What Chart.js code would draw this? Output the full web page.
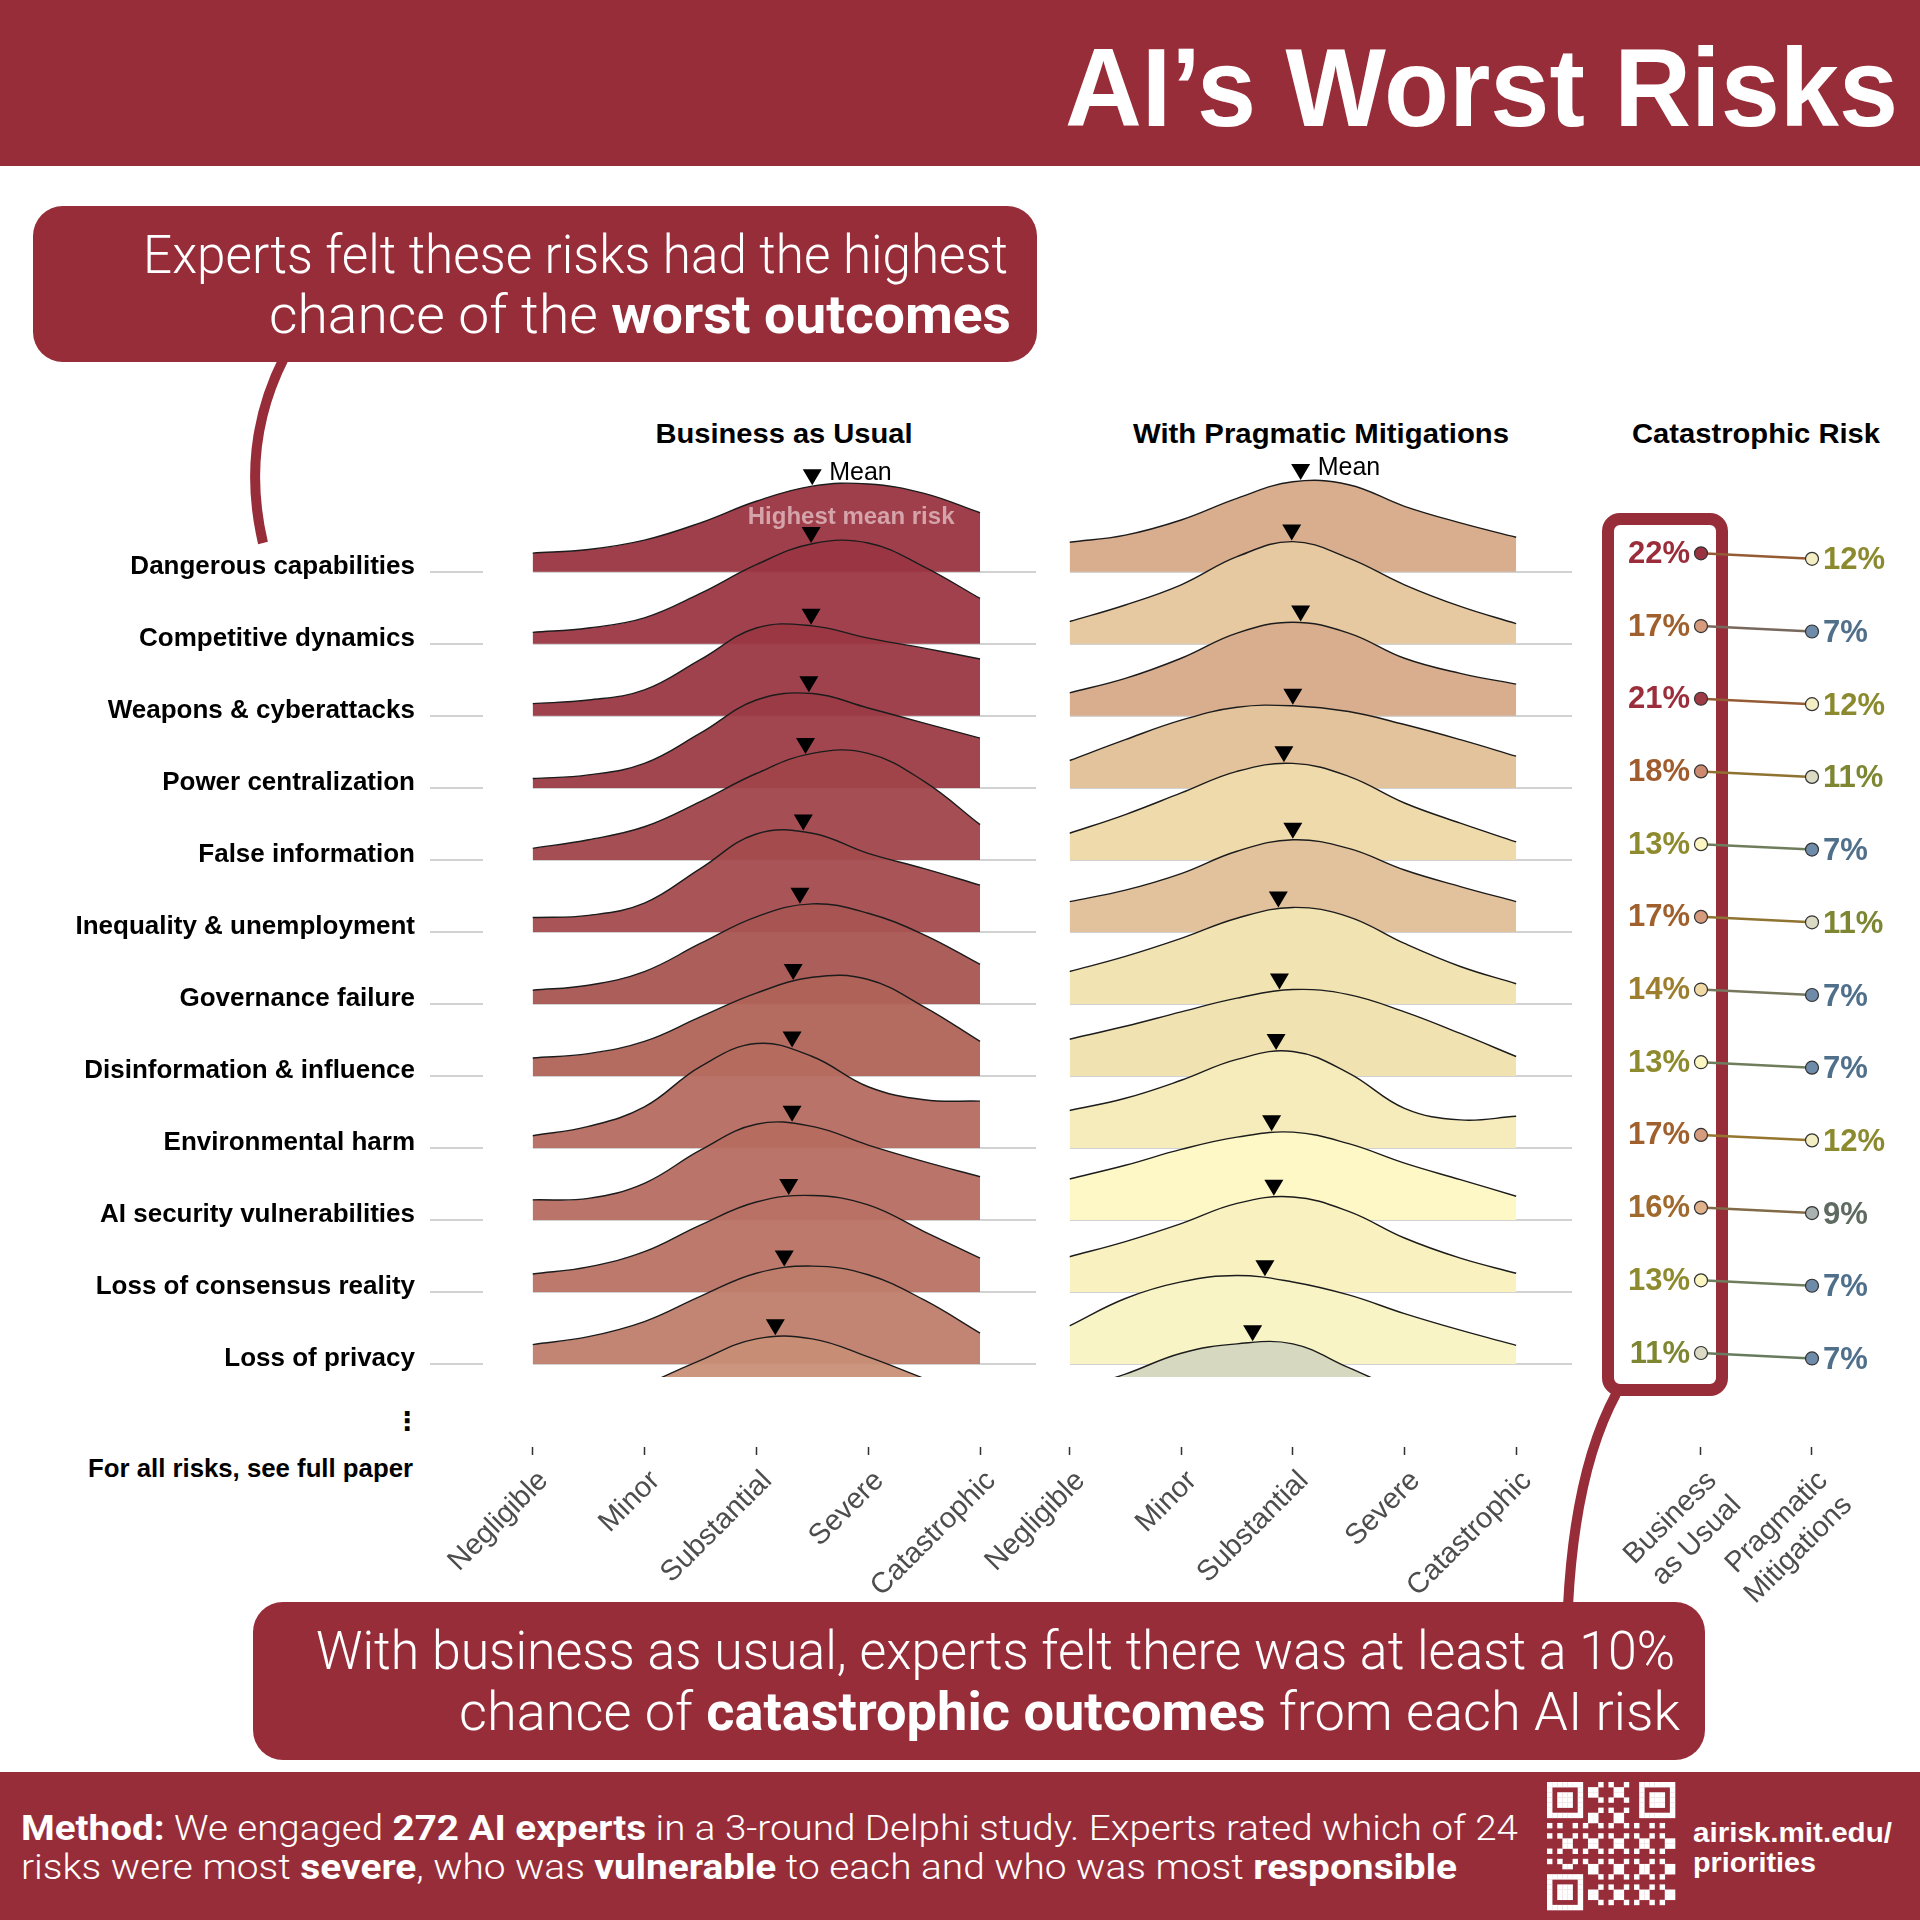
<!DOCTYPE html>
<html>
<head>
<meta charset="utf-8">
<script src="https://cdn.jsdelivr.net/npm/chart.js@4.4.1/dist/chart.umd.min.js"></script>
<style>
  html, body { margin: 0; padding: 0; background: #fff; }
  #page { position: relative; width: 1920px; height: 1920px; overflow: hidden; background: #fff; }
  #bg { position: absolute; left: 0; top: 0; }
  canvas { position: absolute; }
  .light { font-family: Roboto, "Open Sans", Lato, sans-serif; font-weight: 300; }
  .sans { font-family: "Liberation Sans", Arial, sans-serif; }
</style>
</head>
<body>
<div id="page">
<svg id="bg" width="1920" height="1920" xmlns="http://www.w3.org/2000/svg">
  <rect x="0" y="0" width="1920" height="166" fill="#982D3A"/>
  <text class="sans" x="1898" y="126" text-anchor="end" font-weight="700" font-size="112" fill="#fff" textLength="833" lengthAdjust="spacingAndGlyphs">AI’s Worst Risks</text>

  <rect x="33" y="206" width="1004" height="156" rx="30" fill="#982D3A"/>
  <path d="M 284 358 Q 240 445 263 543" stroke="#982D3A" stroke-width="10" fill="none"/>
  <text class="light" x="1008" y="273" text-anchor="end" font-size="53" fill="#fff" textLength="865" lengthAdjust="spacingAndGlyphs">Experts felt these risks had the highest</text>
  <text class="light" x="1011" y="333" text-anchor="end" font-size="53" fill="#fff" textLength="742" lengthAdjust="spacingAndGlyphs">chance of the <tspan font-weight="700">worst outcomes</tspan></text>

  <text class="sans" x="784" y="443" text-anchor="middle" font-weight="700" font-size="28" fill="#000" textLength="257" lengthAdjust="spacingAndGlyphs">Business as Usual</text>
  <text class="sans" x="1321" y="443" text-anchor="middle" font-weight="700" font-size="28" fill="#000" textLength="376" lengthAdjust="spacingAndGlyphs">With Pragmatic Mitigations</text>
  <text class="sans" x="1756" y="443" text-anchor="middle" font-weight="700" font-size="28" fill="#000" textLength="248" lengthAdjust="spacingAndGlyphs">Catastrophic Risk</text>

  <rect x="1608" y="519" width="114" height="871" rx="12" fill="#fff" stroke="#982D3A" stroke-width="12"/>
  <path d="M 1616 1394 Q 1575 1470 1568 1606" stroke="#982D3A" stroke-width="10" fill="none"/>

  <text x="407" y="1430" text-anchor="middle" font-family="DejaVu Sans" font-weight="700" font-size="26" fill="#000">⋮</text>
  <text class="sans" x="413" y="1477" text-anchor="end" font-weight="700" font-size="26" fill="#000" textLength="325" lengthAdjust="spacingAndGlyphs">For all risks, see full paper</text>

  <rect x="253" y="1602" width="1452" height="158" rx="30" fill="#982D3A"/>
  <text class="light" x="1675" y="1669" text-anchor="end" font-size="53" fill="#fff" textLength="1359" lengthAdjust="spacingAndGlyphs">With business as usual, experts felt there was at least a 10%</text>
  <text class="light" x="1680" y="1730" text-anchor="end" font-size="53" fill="#fff" textLength="1221" lengthAdjust="spacingAndGlyphs">chance of <tspan font-weight="700">catastrophic outcomes</tspan> from each AI risk</text>

  <rect x="0" y="1772" width="1920" height="148" fill="#982D3A"/>
  <text class="light" x="21" y="1840" font-size="35" fill="#fff" textLength="1497" lengthAdjust="spacingAndGlyphs"><tspan font-weight="700">Method:</tspan> We engaged <tspan font-weight="700">272 AI experts</tspan> in a 3-round Delphi study. Experts rated which of 24</text>
  <text class="light" x="21" y="1879" font-size="35" fill="#fff" textLength="1436" lengthAdjust="spacingAndGlyphs">risks were most <tspan font-weight="700">severe</tspan>, who was <tspan font-weight="700">vulnerable</tspan> to each and who was most <tspan font-weight="700">responsible</tspan></text>
  <text class="sans" x="1693" y="1842" font-weight="700" font-size="27" fill="#fff" textLength="199" lengthAdjust="spacingAndGlyphs">airisk.mit.edu/</text>
  <text class="sans" x="1693" y="1872" font-weight="700" font-size="27" fill="#fff" textLength="123" lengthAdjust="spacingAndGlyphs">priorities</text>
  <g id="qr"></g>
</svg>

<canvas id="labelsChart" width="483" height="1227" style="left:0px;top:400px;width:483px;height:1227px;"></canvas>
<canvas id="bauChart" width="660" height="1227" style="left:400px;top:400px;width:660px;height:1227px;"></canvas>
<canvas id="pmChart" width="659" height="1227" style="left:937px;top:400px;width:659px;height:1227px;"></canvas>
<canvas id="catChart" width="460" height="1227" style="left:1480px;top:400px;width:460px;height:1227px;"></canvas>
</div>

<script>
// ---------------- DATA ----------------
const categories = ['Negligible', 'Minor', 'Substantial', 'Severe', 'Catastrophic'];
const gridX = [0, 0.5, 1, 1.5, 2, 2.5, 3, 3.5, 4];
const riskLabels = [
  'Dangerous capabilities', 'Competitive dynamics', 'Weapons & cyberattacks',
  'Power centralization', 'False information', 'Inequality & unemployment',
  'Governance failure', 'Disinformation & influence', 'Environmental harm',
  'AI security vulnerabilities', 'Loss of consensus reality', 'Loss of privacy'
];
// density of ratings read at gridX, one row per risk (13th row = next risk, cut off)
const bauDensity = [
  [0.26, 0.31, 0.44, 0.68, 0.98, 1.19, 1.22, 1.09, 0.82],
  [0.16, 0.22, 0.36, 0.70, 1.10, 1.39, 1.40, 1.07, 0.63],
  [0.17, 0.22, 0.36, 0.78, 1.22, 1.25, 1.08, 0.94, 0.79],
  [0.13, 0.18, 0.34, 0.76, 1.22, 1.31, 1.11, 0.90, 0.69],
  [0.16, 0.28, 0.46, 0.81, 1.20, 1.48, 1.48, 1.09, 0.49],
  [0.20, 0.23, 0.40, 0.88, 1.36, 1.37, 1.09, 0.88, 0.65],
  [0.19, 0.26, 0.45, 0.84, 1.21, 1.39, 1.26, 0.96, 0.55],
  [0.25, 0.31, 0.48, 0.82, 1.15, 1.37, 1.34, 0.96, 0.48],
  [0.17, 0.30, 0.57, 1.13, 1.45, 1.27, 0.85, 0.67, 0.65],
  [0.28, 0.30, 0.51, 0.97, 1.33, 1.30, 1.04, 0.81, 0.60],
  [0.25, 0.35, 0.56, 0.93, 1.25, 1.34, 1.21, 0.84, 0.47],
  [0.27, 0.38, 0.59, 0.94, 1.26, 1.36, 1.24, 0.89, 0.43],
  [0.15, 0.30, 0.70, 1.05, 1.35, 1.35, 1.10, 0.80, 0.50]
];
const pmDensity = [
  [0.41, 0.51, 0.72, 1.02, 1.25, 1.21, 0.91, 0.68, 0.48],
  [0.31, 0.54, 0.82, 1.21, 1.42, 1.19, 0.82, 0.52, 0.28],
  [0.32, 0.52, 0.80, 1.15, 1.30, 1.15, 0.80, 0.59, 0.44],
  [0.38, 0.67, 0.94, 1.12, 1.14, 1.06, 0.88, 0.67, 0.44],
  [0.37, 0.63, 0.93, 1.23, 1.34, 1.16, 0.79, 0.51, 0.25],
  [0.42, 0.58, 0.81, 1.12, 1.28, 1.16, 0.86, 0.63, 0.42],
  [0.45, 0.66, 0.91, 1.19, 1.34, 1.21, 0.84, 0.52, 0.28],
  [0.51, 0.69, 0.89, 1.08, 1.20, 1.13, 0.89, 0.59, 0.27],
  [0.52, 0.69, 0.94, 1.23, 1.34, 1.04, 0.55, 0.39, 0.44],
  [0.57, 0.76, 0.98, 1.15, 1.22, 1.06, 0.79, 0.56, 0.33],
  [0.49, 0.70, 0.95, 1.23, 1.32, 1.12, 0.75, 0.47, 0.26],
  [0.53, 0.91, 1.14, 1.23, 1.14, 0.96, 0.70, 0.47, 0.26],
  [0.62, 0.86, 1.15, 1.28, 1.28, 0.95, 0.62, 0.40, 0.22]
];
const bauMean = [2.50, 2.49, 2.49, 2.47, 2.44, 2.42, 2.39, 2.33, 2.32, 2.32, 2.29, 2.25, 2.17];
const pmMean  = [2.07, 1.99, 2.07, 2.00, 1.92, 2.00, 1.87, 1.88, 1.85, 1.81, 1.83, 1.75, 1.64];
const catBAU = [22, 17, 21, 18, 13, 17, 14, 13, 17, 16, 13, 11];
const catPM  = [12, 7, 12, 11, 7, 11, 7, 7, 12, 9, 7, 7];
const scenarioLabels = [['Business', 'as Usual'], ['Pragmatic', 'Mitigations']];

// ---------------- STYLES ----------------
const bauFill = ['#9A3541', '#9B3743', '#9A3843', '#9C3C46', '#A0444A', '#A44C4F', '#A85552',
                 '#B06458', '#B66C60', '#B76D61', '#B87264', '#BF7E6C', '#C98F76'];
const pmFill  = ['#D8AE8E', '#E7C9A1', '#D8AE8E', '#E3C39C', '#EFDAAC', '#E1C29C', '#F1E3B2',
                 '#F1E3B1', '#F6EBBB', '#FEF8C7', '#F9F1BF', '#F8F4C6', '#D6D8BF'];
const pointRamp = [[7, '#6F8BAA'], [9, '#A9B1B1'], [11, '#DBDBC5'], [12, '#F3EEC4'], [13, '#FBF6C2'],
                   [14, '#F1D9A6'], [16, '#E1B18B'], [17, '#D69A7C'], [18, '#CC8B70'], [21, '#9E3B45'], [22, '#9A3340']];
const textRamp  = [[7, '#4F6F8A'], [9, '#5F6A60'], [11, '#7E8632'], [12, '#8C8A2E'], [13, '#8E8A2E'],
                   [14, '#9C7E2E'], [16, '#A0692D'], [17, '#A0602D'], [18, '#A05C2D'], [21, '#9B2E3A'], [22, '#9B2D3A']];

function hexToRgb(h) { const n = parseInt(h.slice(1), 16); return [(n >> 16) & 255, (n >> 8) & 255, n & 255]; }
function rgbToHex(c) { return '#' + c.map(v => Math.round(v).toString(16).padStart(2, '0')).join(''); }
function mix(a, b, t) { const A = hexToRgb(a), B = hexToRgb(b); return rgbToHex(A.map((v, i) => v + (B[i] - v) * t)); }
function ramp(stops, v) {
  if (v <= stops[0][0]) return stops[0][1];
  for (let i = 1; i < stops.length; i++) {
    if (v <= stops[i][0]) {
      const [v0, c0] = stops[i - 1], [v1, c1] = stops[i];
      return mix(c0, c1, (v - v0) / (v1 - v0));
    }
  }
  return stops[stops.length - 1][1];
}

Chart.defaults.font.family = '"Liberation Sans", Arial, sans-serif';

const TOP_ROW = 12;
const base = r => TOP_ROW - r;
const Y_MIN = 0.82, Y_MAX = 13.9;
const AXIS_H = 250;

const tickGrid = {
  drawOnChartArea: false, drawTicks: true, tickLength: 78,
  tickBorderDash: [0, 70, 8, 400], tickColor: '#333', tickWidth: 1.5, color: '#333'
};
const tickFont = { size: 29 };
const tickLabelStyle = { autoSkip: false, minRotation: 45, maxRotation: 45, font: tickFont, color: '#4D4D4D',
                         padding: 9, labelOffset: 11 };

// mean marker triangles + annotations
const meanMarkers = {
  id: 'meanMarkers',
  afterDatasetsDraw(chart, args, o) {
    const ctx = chart.ctx, xs = chart.scales.x, area = chart.chartArea;
    ctx.save();
    ctx.beginPath(); ctx.rect(0, 0, chart.width, area.bottom); ctx.clip();
    o.means.forEach((m, r) => {
      const meta = chart.getDatasetMeta(r);
      const px = xs.getPixelForValue(m);
      let pt = meta.dataset.interpolate({ x: px }, 'x');
      if (Array.isArray(pt)) pt = pt[0];
      if (!pt) return;
      const tip = pt.y - 1, hw = 9.5, h = 16;
      ctx.fillStyle = '#000';
      ctx.beginPath();
      ctx.moveTo(px, tip); ctx.lineTo(px - hw, tip - h); ctx.lineTo(px + hw, tip - h);
      ctx.closePath(); ctx.fill();
      if (r === o.meanLabelRow) {
        ctx.font = '25px "Liberation Sans", Arial, sans-serif';
        ctx.textAlign = 'left'; ctx.textBaseline = 'alphabetic';
        ctx.fillText('Mean', px + 17, tip - 5);
      }
      if (r === o.highlightRow) {
        ctx.font = 'bold 24px "Liberation Sans", Arial, sans-serif';
        ctx.fillStyle = '#D5A3AA';
        ctx.textAlign = 'center'; ctx.textBaseline = 'alphabetic';
        ctx.fillText('Highest mean risk', px + 40, tip - h - 3);
      }
    });
    ctx.restore();
  }
};

function ridgeChart(id, density, fills, alpha, means, highlightRow) {
  const datasets = density.map((row, r) => ({
    data: row.map((d, k) => ({ x: gridX[k], y: base(r) + d })),
    fill: { value: base(r) },
    backgroundColor: fills[r] + alpha,
    borderColor: '#1c1c1c',
    borderWidth: 1.4,
    tension: 0.4,
    pointRadius: 0,
    order: 100 - r
  }));
  return new Chart(document.getElementById(id), {
    type: 'line',
    data: { datasets },
    options: {
      responsive: false, animation: false, devicePixelRatio: 1,
      layout: { padding: { left: 132.5, right: 24, top: 35, bottom: 0 } },
      plugins: {
        legend: { display: false }, tooltip: { enabled: false },
        meanMarkers: { means, meanLabelRow: 0, highlightRow }
      },
      scales: {
        x: {
          type: 'linear', min: 0, max: 4.5,
          afterBuildTicks: s => { s.ticks = categories.map((c, i) => ({ value: i })); },
          afterFit: s => { s.height = AXIS_H; },
          ticks: Object.assign({}, tickLabelStyle, { callback: v => categories[v] }),
          grid: tickGrid, border: { display: false }
        },
        y: {
          type: 'linear', min: Y_MIN, max: Y_MAX,
          afterBuildTicks: s => { s.ticks = riskLabels.map((_, r) => ({ value: base(r) })); },
          afterFit: s => { s.width = 0; },
          ticks: { display: false },
          grid: { drawTicks: false, color: '#D2D2D2', lineWidth: 2 },
          border: { display: false }
        }
      }
    },
    plugins: [meanMarkers]
  });
}

// risk labels (y axis) with short guide lines
new Chart(document.getElementById('labelsChart'), {
  type: 'line',
  data: { datasets: [{ data: [] }] },
  options: {
    responsive: false, animation: false, devicePixelRatio: 1,
    layout: { padding: { left: 0, right: 0, top: 35, bottom: AXIS_H } },
    plugins: { legend: { display: false }, tooltip: { enabled: false } },
    scales: {
      x: { type: 'linear', display: false, min: 0, max: 1 },
      y: {
        type: 'linear', min: Y_MIN, max: Y_MAX,
        afterBuildTicks: s => { s.ticks = riskLabels.map((_, r) => ({ value: base(r) })); },
        afterFit: s => { s.width = 430; },
        ticks: { autoSkip: false, font: { size: 26, weight: 'bold' }, color: '#000', padding: 15, labelOffset: -5,
                 callback: v => riskLabels[Math.round(TOP_ROW - v)] },
        grid: { drawTicks: false, color: '#D2D2D2', lineWidth: 2 },
        border: { display: false }
      }
    }
  }
});

ridgeChart('bauChart', bauDensity, bauFill, 'F2', bauMean, 1);
ridgeChart('pmChart', pmDensity, pmFill, 'FF', pmMean, -1);

// catastrophic-risk dumbbells
const PM_DROP = 0.075;
const catLabels = {
  id: 'catLabels',
  afterDatasetsDraw(chart) {
    const ctx = chart.ctx;
    ctx.save();
    ctx.font = 'bold 31px "Liberation Sans", Arial, sans-serif';
    ctx.textBaseline = 'middle';
    catBAU.forEach((b, r) => {
      const pts = chart.getDatasetMeta(r).data;
      ctx.fillStyle = ramp(textRamp, b);
      ctx.textAlign = 'right';
      ctx.fillText(b + '%', pts[0].x - 11, pts[0].y + 1);
      ctx.fillStyle = ramp(textRamp, catPM[r]);
      ctx.textAlign = 'left';
      ctx.fillText(catPM[r] + '%', pts[1].x + 11, pts[1].y + 2);
    });
    ctx.restore();
  }
};
new Chart(document.getElementById('catChart'), {
  type: 'line',
  data: {
    datasets: catBAU.map((b, r) => ({
      data: [{ x: 0, y: r }, { x: 1, y: r + PM_DROP }],
      borderColor: mix(ramp(textRamp, b), ramp(textRamp, catPM[r]), 0.5),
      borderWidth: 2.5,
      pointRadius: 6.5,
      pointBackgroundColor: [ramp(pointRamp, b), ramp(pointRamp, catPM[r])],
      pointBorderColor: '#333',
      pointBorderWidth: 1.2,
      fill: false
    }))
  },
  options: {
    responsive: false, animation: false, devicePixelRatio: 1,
    layout: { padding: { left: 140, right: 40, top: 117, bottom: 0 } },
    plugins: { legend: { display: false }, tooltip: { enabled: false } },
    scales: {
      x: {
        type: 'linear', min: -0.7297, max: 1.7928,
        afterBuildTicks: s => { s.ticks = scenarioLabels.map((_, i) => ({ value: i })); },
        afterFit: s => { s.height = AXIS_H; },
        ticks: Object.assign({}, tickLabelStyle, { callback: v => scenarioLabels[v] }),
        grid: tickGrid, border: { display: false }
      },
      y: { type: 'linear', reverse: true, min: -0.5, max: 11.33, display: false }
    }
  },
  plugins: [catLabels]
});

// decorative QR-style block in the footer
(function drawQR() {
  const g = document.getElementById('qr');
  const N = 25, S = 128 / N, X0 = 1547, Y0 = 1782;
  const ns = 'http://www.w3.org/2000/svg';
  const inFinder = (i, j) => (i < 8 && j < 8) || (i < 8 && j >= N - 8) || (i >= N - 8 && j < 8);
  const finderCell = (i, j) => {
    const fi = i < 8 ? i : i - (N - 7), fj = j < 8 ? j : j - (N - 7);
    if (fi < 0 || fj < 0 || fi > 6 || fj > 6) return false;
    if (fi === 0 || fi === 6 || fj === 0 || fj === 6) return true;
    return fi >= 2 && fi <= 4 && fj >= 2 && fj <= 4;
  };
  for (let i = 0; i < N; i++) for (let j = 0; j < N; j++) {
    const on = inFinder(i, j) ? finderCell(i, j) : ((i * 7 + j * 13 + i * j * 3) % 5 < 2);
    if (!on) continue;
    const r = document.createElementNS(ns, 'rect');
    r.setAttribute('x', X0 + j * S); r.setAttribute('y', Y0 + i * S);
    r.setAttribute('width', S + 0.3); r.setAttribute('height', S + 0.3);
    r.setAttribute('fill', '#fff');
    g.appendChild(r);
  }
})();
</script>
</body>
</html>
